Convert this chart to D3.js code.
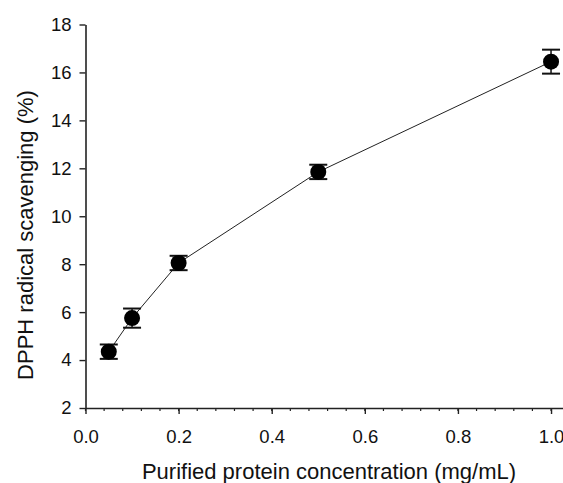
<!DOCTYPE html>
<html>
<head>
<meta charset="utf-8">
<script src="https://cdn.jsdelivr.net/npm/d3@7"></script>
<style>
  body { margin: 0; background: #fff; }
  svg { display: block; font-family: "Liberation Sans", Arial, sans-serif; }
  .tick text { font-size: 18.5px; fill: #111; }
  .axis path, .axis line { stroke: #222; }
</style>
</head>
<body>
<div id="vis"></div>
<script>
var width = 563;
var height = 483;

// data
var concentration = [0.05, 0.1, 0.2, 0.5, 1.0];
var scavenging = [4.35, 5.75, 8.05, 11.85, 16.45];
var sem = [0.3, 0.4, 0.3, 0.3, 0.5];

var xTicks = [0, 0.2, 0.4, 0.6, 0.8, 1.0];
var xMinor = d3.range(0, 1.001, 0.04);
var yTicks = [2, 4, 6, 8, 10, 12, 14, 16, 18];

var x = d3.scaleLinear().domain([0, 1.03]).range([85.5, 565]);
var y = d3.scaleLinear().domain([2, 18]).range([408, 24.5]);

var svg = d3.select('#vis').append('svg')
  .attr('width', width)
  .attr('height', height);

// minor ticks on the x axis
svg.append('g')
  .selectAll('line')
  .data(xMinor)
  .enter().append('line')
    .attr('x1', function (d) { return x(d); })
    .attr('x2', function (d) { return x(d); })
    .attr('y1', y(2))
    .attr('y2', y(2) + 3)
    .attr('stroke', '#222')
    .attr('stroke-width', 1.2);

var xAxis = svg.append('g')
  .attr('class', 'axis')
  .attr('transform', 'translate(0,' + y(2) + ')')
  .call(d3.axisBottom(x).tickValues(xTicks).tickFormat(d3.format('.1f')).tickSize(6).tickSizeOuter(0));
xAxis.select('.domain').attr('stroke-width', 1.6);
xAxis.selectAll('.tick line').attr('stroke-width', 1.4);
xAxis.selectAll('.tick text').attr('y', 35).attr('dy', 0);

var yAxis = svg.append('g')
  .attr('class', 'axis')
  .attr('transform', 'translate(' + x(0) + ',0)')
  .call(d3.axisLeft(y).tickValues(yTicks).tickSize(6).tickSizeOuter(0));
yAxis.select('.domain').attr('stroke-width', 1.6);
yAxis.selectAll('.tick line').attr('stroke-width', 1.4);
yAxis.selectAll('.tick text').attr('x', -14);

// connecting line
var line = d3.line()
  .x(function (d, i) { return x(concentration[i]); })
  .y(function (d) { return y(d); });

svg.append('path')
  .datum(scavenging)
  .attr('d', line)
  .attr('fill', 'none')
  .attr('stroke', '#222')
  .attr('stroke-width', 1);

// error bars
var err = svg.append('g')
  .selectAll('g')
  .data(scavenging)
  .enter().append('g');

err.append('line')
  .attr('x1', function (d, i) { return x(concentration[i]); })
  .attr('x2', function (d, i) { return x(concentration[i]); })
  .attr('y1', function (d, i) { return y(d + sem[i]); })
  .attr('y2', function (d, i) { return y(d - sem[i]); })
  .attr('stroke', '#111')
  .attr('stroke-width', 1.5);

[1, -1].forEach(function (s) {
  err.append('line')
    .attr('x1', function (d, i) { return x(concentration[i]) - 9; })
    .attr('x2', function (d, i) { return x(concentration[i]) + 9; })
    .attr('y1', function (d, i) { return y(d + s * sem[i]); })
    .attr('y2', function (d, i) { return y(d + s * sem[i]); })
    .attr('stroke', '#111')
    .attr('stroke-width', 2);
});

// markers
svg.append('g')
  .selectAll('circle')
  .data(scavenging)
  .enter().append('circle')
    .attr('cx', function (d, i) { return x(concentration[i]); })
    .attr('cy', function (d) { return y(d); })
    .attr('r', 8)
    .attr('fill', '#000');

// axis titles
svg.append('text')
  .attr('x', 329)
  .attr('y', 478.5)
  .attr('text-anchor', 'middle')
  .style('font-size', '22px')
  .attr('fill', '#111')
  .text('Purified protein concentration (mg/mL)');

svg.append('text')
  .attr('transform', 'translate(33,235) rotate(-90)')
  .attr('text-anchor', 'middle')
  .style('font-size', '22px')
  .attr('fill', '#111')
  .text('DPPH radical scavenging (%)');
</script>
</body>
</html>
